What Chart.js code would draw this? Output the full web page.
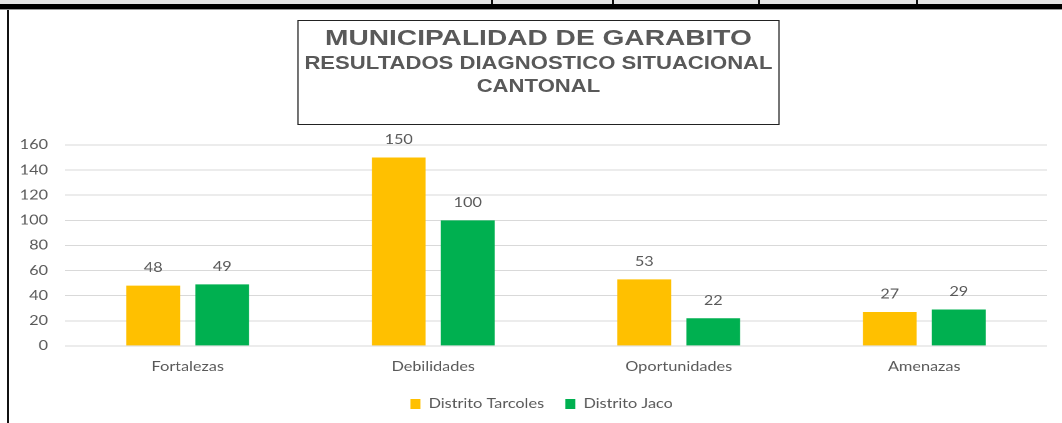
<!DOCTYPE html>
<html>
<head>
<meta charset="utf-8">
<script src="https://cdn.jsdelivr.net/npm/chart.js@4.4.1/dist/chart.umd.min.js"></script>
<style>
  html, body { margin: 0; padding: 0; background: #ffffff; overflow: hidden; }
  #page { position: relative; width: 1062px; height: 423px; overflow: hidden; background: #fff; }
  .deco { position: absolute; }
  #stage { position: absolute; left: 0; top: 0; width: 850px; height: 423px;
           transform: scaleX(1.2494); transform-origin: 0 0; }
  #chart { position: absolute; left: 0; top: 0; }
  #titlebox { position: absolute; left: 237.7px; top: 20px; width: 386.6px; height: 105px;
              box-sizing: border-box; border: 1.5px solid #222; }
  .tline { position: absolute; left: 237.7px; width: 386.6px; text-align: center;
           font-family: "Liberation Sans", Arial, sans-serif; font-weight: bold; color: #595959;
           line-height: 24px; white-space: nowrap; }
</style>
</head>
<body>
<div id="page">
  <!-- spreadsheet frame decorations -->
  <div class="deco" style="left:0;top:0;width:1062px;height:4px;background:#e6e6e6;"></div>
  <div class="deco" style="left:0;top:4px;width:1062px;height:5px;background:#000;"></div>
  <div class="deco" style="left:0;top:9px;width:1062px;height:1px;background:#9a9a9a;"></div>
  <div class="deco" style="left:491px;top:0;width:2px;height:4px;background:#111;"></div>
  <div class="deco" style="left:612px;top:0;width:2px;height:4px;background:#111;"></div>
  <div class="deco" style="left:758px;top:0;width:2px;height:4px;background:#111;"></div>
  <div class="deco" style="left:916px;top:0;width:2px;height:4px;background:#111;"></div>
  <div class="deco" style="left:7px;top:10px;width:2px;height:413px;background:#111;"></div>

  <div id="stage">
    <canvas id="chart" width="850" height="423"></canvas>
    <div id="titlebox"></div>
    <div class="tline" id="t1" style="top:26px;font-size:22.5px;"></div>
    <div class="tline" id="t2" style="top:50.5px;font-size:17.7px;"></div>
    <div class="tline" id="t3" style="top:74px;font-size:17.7px;"></div>
  </div>
</div>
<script>
const titleLines = ["MUNICIPALIDAD DE GARABITO", "RESULTADOS DIAGNOSTICO SITUACIONAL", "CANTONAL"];
const categories = ["Fortalezas", "Debilidades", "Oportunidades", "Amenazas"];
const seriesNames = ["Distrito Tarcoles", "Distrito Jaco"];
const tarcoles = [48, 150, 53, 27];
const jaco = [49, 100, 22, 29];
const yTicks = [0, 20, 40, 60, 80, 100, 120, 140, 160];

document.getElementById('t1').textContent = titleLines[0];
document.getElementById('t2').textContent = titleLines[1];
document.getElementById('t3').textContent = titleLines[2];

const TEXT = '#595959';
const FONT = 'Lato, "Open Sans", sans-serif';

const valueLabels = {
  id: 'valueLabels',
  afterLayout(chart) {
    // let the y tick labels use the space to the left of the narrowed axis
    chart.scales.y.left = 0;
  },
  afterDatasetsDraw(chart) {
    const ctx = chart.ctx;
    ctx.save();
    ctx.font = '13px ' + FONT;
    ctx.fillStyle = TEXT;
    ctx.textAlign = 'center';
    ctx.textBaseline = 'alphabetic';
    chart.data.datasets.forEach((ds, i) => {
      chart.getDatasetMeta(i).data.forEach((bar, j) => {
        ctx.fillText(String(ds.data[j]), bar.x, bar.y - 13.5);
      });
    });
    ctx.restore();
  }
};

new Chart(document.getElementById('chart'), {
  type: 'bar',
  data: {
    labels: categories,
    datasets: [
      { label: seriesNames[0], data: tarcoles, backgroundColor: '#FFC000', borderWidth: 0,
        categoryPercentage: 0.562, barPercentage: 0.78 },
      { label: seriesNames[1], data: jaco, backgroundColor: '#00B050', borderWidth: 0,
        categoryPercentage: 0.562, barPercentage: 0.78 }
    ]
  },
  options: {
    responsive: false,
    devicePixelRatio: 2,
    animation: false,
    layout: { padding: { left: 29, right: 12, top: 145, bottom: 2.5 } },
    scales: {
      x: {
        grid: { display: false, drawTicks: false },
        border: { display: false },
        ticks: { color: TEXT, font: { family: FONT, size: 13 }, padding: 13 },
        afterFit(axis) { axis.height -= 7; }
      },
      y: {
        min: 0, max: 160,
        afterBuildTicks(axis) { axis.ticks = yTicks.map(v => ({ value: v })); },
        grid: { color: '#D9D9D9', lineWidth: 1, drawTicks: false },
        border: { display: false },
        ticks: { color: TEXT, font: { family: FONT, size: 13 }, padding: 13.6 },
        afterFit(axis) { axis.width = 23; }
      }
    },
    plugins: {
      legend: {
        position: 'bottom',
        labels: { color: TEXT, font: { family: FONT, size: 13 }, boxWidth: 8, boxHeight: 10, padding: 17 }
      },
      tooltip: { enabled: false },
      title: { display: false }
    }
  },
  plugins: [valueLabels]
});
</script>
</body>
</html>
